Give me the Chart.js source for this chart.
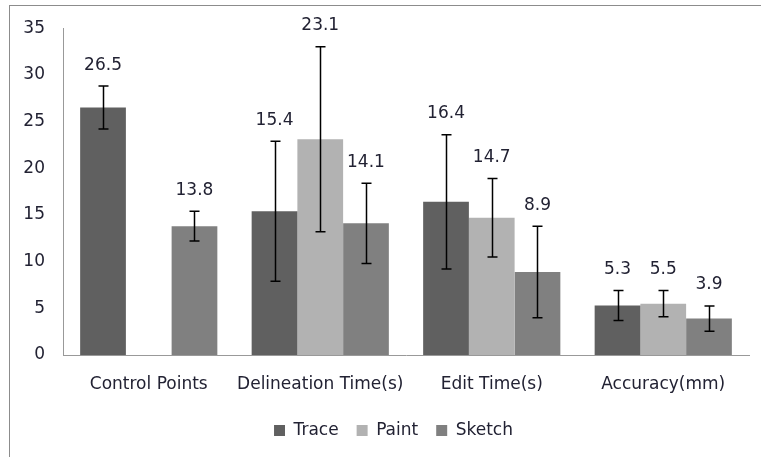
<!DOCTYPE html>
<html>
<head>
<meta charset="utf-8">
<script src="https://cdn.jsdelivr.net/npm/chart.js@4/dist/chart.umd.min.js"></script>
<style>
  body { margin: 0; background: #fff; }
  #wrap { position: relative; width: 761px; height: 457px; }
  #frame { position: absolute; left: 9px; top: 5px; width: 800px; height: 500px; border: 1px solid #8c8c8c; }
  canvas { position: absolute; left: 0; top: 0; }
</style>
</head>
<body>
<div id="wrap">
  <div id="frame"></div>
  <canvas id="chart" width="761" height="457"></canvas>
</div>
<script>
// categories and series
const categories = ['Control Points', 'Delineation Time(s)', 'Edit Time(s)', 'Accuracy(mm)'];
const traceValues = [26.5, 15.4, 16.4, 5.3];
const paintValues = [null, 23.1, 14.7, 5.5];
const sketchValues = [13.8, 14.1, 8.9, 3.9];
// error bar half widths (estimated)
const traceErr = [2.3, 7.5, 7.2, 1.6];
const paintErr = [null, 9.9, 4.2, 1.4];
const sketchErr = [1.6, 4.3, 4.9, 1.35];
const yTicks = [0, 5, 10, 15, 20, 25, 30, 35];

const errors = [traceErr, paintErr, sketchErr];
const textColor = '#222233';
const font = { family: 'DejaVu Sans', size: 17 };

// error bars + value labels
const errorBars = {
    id: 'errorBars',
    afterDatasetsDraw(chart) {
        const ctx = chart.ctx;
        const y = chart.scales.y;
        chart.data.datasets.forEach((ds, i) => {
            const meta = chart.getDatasetMeta(i);
            meta.data.forEach((bar, j) => {
                const v = ds.data[j];
                const e = errors[i][j];
                if (v == null || e == null) return;
                const top = y.getPixelForValue(v + e);
                const bot = y.getPixelForValue(v - e);
                const x = Math.round(bar.x) + 0.5;
                ctx.save();
                ctx.strokeStyle = '#000';
                ctx.lineWidth = 1.5;
                ctx.beginPath();
                ctx.moveTo(x, top); ctx.lineTo(x, bot);
                ctx.moveTo(x - 5, top); ctx.lineTo(x + 5, top);
                ctx.moveTo(x - 5, bot); ctx.lineTo(x + 5, bot);
                ctx.stroke();
                ctx.fillStyle = textColor;
                ctx.font = '17px "DejaVu Sans"';
                ctx.textAlign = 'center';
                ctx.textBaseline = 'middle';
                ctx.fillText(v.toFixed(1), bar.x, top - 21);
                ctx.restore();
            });
        });
    }
};

// legend in the original sits a bit right of the canvas centre
const legendShift = {
    id: 'legendShift',
    afterLayout(chart) {
        chart.legend.left += 19;
        chart.legend.right += 19;
    }
};

new Chart(document.getElementById('chart').getContext('2d'), {
    type: 'bar',
    data: {
        labels: categories,
        datasets: [
            { label: 'Trace', data: traceValues, backgroundColor: '#606060' },
            { label: 'Paint', data: paintValues, backgroundColor: '#b2b2b2' },
            { label: 'Sketch', data: sketchValues, backgroundColor: '#808080' }
        ]
    },
    options: {
        responsive: false,
        animation: false,
        layout: { padding: { left: 0, right: 12, top: 25, bottom: 8 } },
        datasets: { bar: { barPercentage: 1, categoryPercentage: 0.8 } },
        plugins: {
            legend: {
                position: 'bottom',
                labels: { boxWidth: 11, boxHeight: 11, color: textColor, font: font, padding: 18 }
            },
            tooltip: { enabled: false }
        },
        scales: {
            x: {
                grid: { display: false, drawTicks: false },
                border: { color: '#999999' },
                ticks: { color: textColor, font: font, padding: 19, maxRotation: 0, minRotation: 0, autoSkip: false },
                afterFit: s => { s.height = 49; }
            },
            y: {
                min: 0, max: 35,
                afterBuildTicks: s => { s.ticks = yTicks.map(v => ({ value: v })); },
                grid: { display: false, drawTicks: false },
                border: { color: '#999999' },
                ticks: { color: textColor, font: font, padding: 18 },
                afterFit: s => { s.width = 63; }
            }
        }
    },
    plugins: [errorBars, legendShift]
});
</script>
</body>
</html>
